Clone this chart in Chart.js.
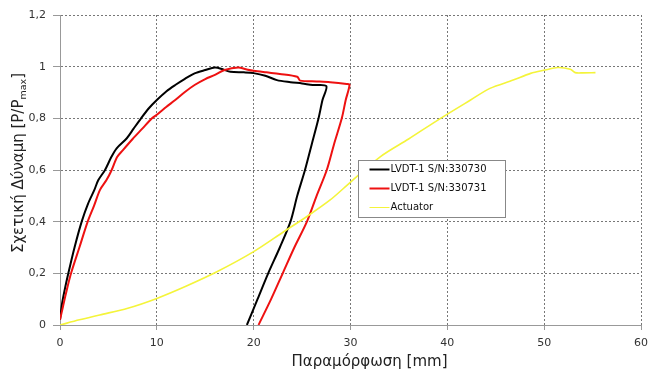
<!DOCTYPE html>
<html>
<head>
<meta charset="utf-8">
<script src="https://cdn.jsdelivr.net/npm/chart.js@4/dist/chart.umd.min.js"></script>
<style>
  html, body { margin: 0; padding: 0; background: #fff; }
  #wrap { width: 648px; height: 371px; }
</style>
</head>
<body>
<div id="wrap"><canvas id="chart" width="648" height="371"></canvas></div>
<script>
// LVDT-1 S/N:330730 (black): loading, then unloading back down
const blackX = [0, 0.2, 0.45, 0.86, 1.5, 2.24, 2.9, 3.55, 3.96, 4.65, 5.3, 5.85, 6.9, 7.6, 8.37, 9.2, 10, 11, 11.9, 12.9, 13.9, 15, 16, 16.8, 17.6, 19, 20, 21.2, 22.4, 23.8, 25, 26.1, 27.5,
                27.1, 26.7, 26.0, 25.3, 24.5, 23.8, 22.7, 21.5, 20.4, 19.3];
const blackY = [0.02, 0.08, 0.13, 0.2, 0.3, 0.4, 0.47, 0.523, 0.561, 0.6, 0.65, 0.684, 0.723, 0.76, 0.8, 0.84, 0.871, 0.905, 0.929, 0.953, 0.974, 0.987, 0.997, 0.99, 0.98, 0.978, 0.975, 0.965, 0.948, 0.94, 0.935, 0.929, 0.925,
                0.87, 0.8, 0.7, 0.6, 0.5, 0.4, 0.3, 0.2, 0.1, 0];

// LVDT-1 S/N:330731 (red)
const redX = [0, 0.3, 0.6, 1.14, 2.0, 2.86, 3.5, 4.13, 4.8, 5.34, 5.9, 6.5, 7.5, 8.5, 9.5, 10, 11, 11.9, 12.9, 13.9, 15, 16, 17, 18.4, 19.2, 20, 21.3, 22.7, 24.5, 24.8, 26.5, 27.9, 29.6, 29.9,
              29.5, 29.1, 28.3, 27.55, 26.5, 25.5, 24.2, 23.0, 21.8, 20.5];
const redY = [0.02, 0.07, 0.12, 0.2, 0.3, 0.4, 0.46, 0.523, 0.561, 0.6, 0.65, 0.677, 0.72, 0.76, 0.8, 0.814, 0.845, 0.871, 0.902, 0.929, 0.952, 0.968, 0.987, 0.997, 0.99, 0.984, 0.978, 0.972, 0.961, 0.946, 0.943, 0.94, 0.933, 0.93,
              0.87, 0.8, 0.7, 0.6, 0.5, 0.4, 0.3, 0.2, 0.1, 0];

// Actuator (yellow)
const actX = [0, 2, 4.1, 7, 10, 13, 16.2, 20, 23.1, 25.5, 27.9, 30, 33.1, 36, 39.3, 42.4, 44.4, 46.8, 48.6, 50.1, 51.4, 52.7, 53.2, 54, 55.3];
const actY = [0, 0.02, 0.039, 0.065, 0.103, 0.15, 0.206, 0.284, 0.361, 0.42, 0.484, 0.553, 0.652, 0.72, 0.8, 0.871, 0.916, 0.948, 0.974, 0.987, 0.997, 0.99, 0.977, 0.976, 0.977];

const seriesNames = ['LVDT-1 S/N:330730', 'LVDT-1 S/N:330731', 'Actuator'];
const yTickLabels = ['0', '0,2', '0,4', '0,6', '0,8', '1', '1,2'];
const xTitle = 'Παραμόρφωση [mm]';
const yTitleMain = 'Σχετική Δύναμη [P/P';
const yTitleSub = 'max';
const yTitleEnd = ']';

const FONT = '"DejaVu Sans", Verdana, sans-serif';
const toPoints = (xs, ys) => xs.map((x, i) => ({ x, y: ys[i] }));

const colors = ['#000000', '#ee1111', '#f4f43a'];
const widths = [2, 2, 1.6];

const titlesPlugin = {
    id: 'titles',
    afterDraw(chart) {
        const { ctx, chartArea } = chart;
        ctx.save();
        ctx.fillStyle = '#222';
        ctx.textBaseline = 'alphabetic';
        // x title
        ctx.font = '15px ' + FONT;
        ctx.textAlign = 'center';
        ctx.fillText(xTitle, (chartArea.left + chartArea.right) / 2 + 19, 366);
        // y title with subscript
        ctx.translate(23, (chartArea.top + chartArea.bottom) / 2 - 7);
        ctx.rotate(-Math.PI / 2);
        ctx.textAlign = 'left';
        ctx.font = '15px ' + FONT;
        const w1 = ctx.measureText(yTitleMain).width;
        const w3 = ctx.measureText(yTitleEnd).width;
        ctx.font = '9.5px ' + FONT;
        const w2 = ctx.measureText(yTitleSub).width;
        let x = -(w1 + w2 + w3) / 2;
        ctx.font = '15px ' + FONT;
        ctx.fillText(yTitleMain, x, 0);
        x += w1;
        ctx.font = '9.5px ' + FONT;
        ctx.fillText(yTitleSub, x, 3);
        x += w2;
        ctx.font = '15px ' + FONT;
        ctx.fillText(yTitleEnd, x, 0);
        ctx.restore();
    }
};

const legendPlugin = {
    id: 'boxLegend',
    afterDatasetsDraw(chart) {
        const { ctx } = chart;
        const box = { left: 358.5, top: 160.5, width: 147, height: 57 };
        ctx.save();
        ctx.fillStyle = '#fff';
        ctx.fillRect(box.left, box.top, box.width, box.height);
        ctx.strokeStyle = '#888';
        ctx.lineWidth = 1;
        ctx.strokeRect(box.left, box.top, box.width, box.height);
        ctx.font = '10px ' + FONT;
        ctx.textBaseline = 'middle';
        ctx.textAlign = 'left';
        seriesNames.forEach((name, i) => {
            const yy = box.top + 9 + i * 19;
            ctx.strokeStyle = colors[i];
            ctx.lineWidth = i === 2 ? 1 : 2;
            ctx.beginPath();
            ctx.moveTo(box.left + 11, yy);
            ctx.lineTo(box.left + 31, yy);
            ctx.stroke();
            ctx.fillStyle = '#111';
            ctx.fillText(name, box.left + 32, yy);
        });
        ctx.restore();
    }
};

const datasets = [
    { label: seriesNames[0], data: toPoints(blackX, blackY), order: 2 },
    { label: seriesNames[1], data: toPoints(redX, redY), order: 1 },
    { label: seriesNames[2], data: toPoints(actX, actY), order: 0 }
].map((d, i) => ({
    ...d,
    borderColor: colors[i],
    backgroundColor: colors[i],
    borderWidth: widths[i],
    pointRadius: 0,
    tension: 0.3,
    fill: false
}));

new Chart(document.getElementById('chart'), {
    type: 'line',
    data: { datasets },
    options: {
        responsive: false,
        animation: false,
        layout: { padding: { left: 0, right: 0, top: 15, bottom: 0 } },
        plugins: { legend: { display: false }, tooltip: { enabled: false } },
        scales: {
            x: {
                type: 'linear',
                min: 0,
                max: 60,
                ticks: { stepSize: 10, color: '#333', font: { family: FONT, size: 11 }, padding: 7, maxRotation: 0 },
                grid: { color: '#777', tickLength: 5, tickColor: '#999' },
                border: { color: '#999', width: 1, dash: [2, 2] },
                afterFit(scale) {
                    scale.height = 46;
                    scale.paddingRight = 7;
                    scale.paddingLeft = 0;
                }
            },
            y: {
                min: 0,
                max: 1.2,
                ticks: {
                    stepSize: 0.2,
                    color: '#333',
                    font: { family: FONT, size: 11 },
                    padding: 7,
                    callback: (v, i) => yTickLabels[i]
                },
                grid: { color: '#777', tickLength: 7, tickColor: '#999' },
                border: { color: '#999', width: 1, dash: [2, 2] },
                afterFit(scale) { scale.width = 60; }
            }
        }
    },
    plugins: [legendPlugin, titlesPlugin]
});
</script>
</body>
</html>
